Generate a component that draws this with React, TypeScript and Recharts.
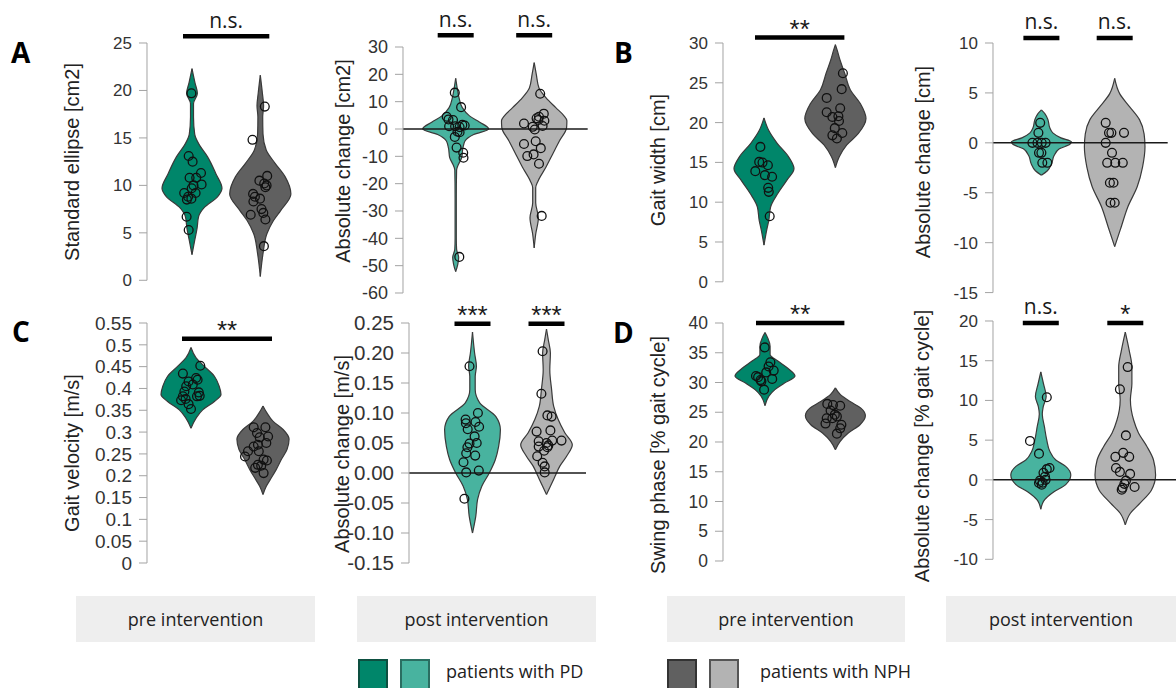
import { Area, ComposedChart, ReferenceLine, Scatter, XAxis, YAxis } from "recharts";

// groups and phases shown in the figure
const groups = ["patients with PD", "patients with NPH"];
const phases = ["pre intervention", "post intervention"];

// each dot: [value, horizontal jitter as a share of the violin half width]
// each shape row: [value, violin half width, relative]

// A: standard ellipse
const ellipsePrePd = [[19.7, -0.02], [13.1, -0.11], [12.5, 0.02], [11.3, 0.3], [10.8, -0.08], [10.8, 0.14], [10.1, 0.32], [10.0, 0.05], [9.7, -0.01], [9.2, 0.12], [9.2, -0.26], [8.8, -0.13], [8.6, -0.02], [8.5, -0.17], [6.7, -0.18], [5.3, -0.11]];
const ellipsePrePdShape = [[2.7, 0], [4.2, 0.09], [5.5, 0.17], [6.7, 0.22], [7.7, 0.42], [8.8, 0.85], [9.7, 1], [11.2, 0.8], [13, 0.52], [14.4, 0.22], [15.4, 0.09], [17.2, 0.05], [18.6, 0.05], [19.7, 0.18], [20.8, 0.1], [22.3, 0]];
const ellipsePreNph = [[18.3, 0.15], [14.8, -0.26], [11.0, 0.23], [10.5, -0.03], [10.2, 0.13], [10.0, 0.21], [9.8, 0.17], [9.1, -0.24], [8.8, -0.18], [8.6, -0.01], [8.3, -0.23], [7.5, 0.04], [7.1, 0.1], [6.9, -0.32], [6.4, 0.17], [3.6, 0.12]];
const ellipsePreNphShape = [[0.4, 0], [2.8, 0.09], [4.9, 0.22], [6.3, 0.44], [7.4, 0.69], [9.1, 1.02], [10.9, 0.83], [12.3, 0.5], [13.7, 0.2], [15.4, 0.09], [17.2, 0.08], [18.4, 0.11], [19.7, 0.07], [21.6, 0]];
const ellipseChangePd = [[13.3, -0.03], [8.0, 0.18], [4.5, -0.3], [3.5, -0.24], [3.3, -0.09], [1.5, 0.22], [1.3, 0.3], [1.0, -0.22], [1.0, -0.02], [0.7, 0.13], [-1.0, 0.06], [-1.2, 0.13], [-2.9, -0.03], [-6.8, 0.03], [-8.7, 0.25], [-10.5, 0.26], [-46.8, 0.12]];
const ellipseChangePdShape = [[-52.2, 0], [-49.5, 0.07], [-47, 0.1], [-44, 0.03], [-40, 0.02], [-25, 0.02], [-15, 0.03], [-13, 0.09], [-10.5, 0.2], [-7, 0.24], [-4.4, 0.31], [-2, 0.6], [0, 1.1], [2.5, 0.8], [4.8, 0.46], [7.8, 0.22], [11.5, 0.11], [15, 0.05], [18.5, 0]];
const ellipseChangeNph = [[12.9, 0.2], [5.6, 0.32], [4.5, 0.16], [3.9, 0.08], [3.3, 0.14], [3.0, 0.34], [2.0, -0.34], [1.1, 0.28], [0.8, -0.05], [-0.2, 0.02], [-4.5, 0.05], [-5.5, -0.34], [-7.0, 0.22], [-9.3, -0.02], [-9.9, -0.23], [-12.7, 0.16], [-31.8, 0.25]];
const ellipseChangeNphShape = [[-43.5, 0], [-38.5, 0.05], [-32.5, 0.14], [-27, 0.05], [-21.5, 0.05], [-19, 0.13], [-14, 0.39], [-9.3, 0.61], [-4.4, 0.84], [0.5, 1.08], [3, 1.09], [5, 0.98], [7.8, 0.72], [11.5, 0.39], [15, 0.16], [20, 0.07], [24.3, 0]];

// B: gait width
const widthPrePd = [[16.95, -0.12], [15.06, -0.16], [14.98, -0.05], [14.64, 0.13], [13.9, -0.29], [13.4, 0.03], [13.2, 0.27], [11.8, 0.14], [11.3, 0.16], [8.24, 0.19]];
const widthPrePdShape = [[4.6, 0], [6.5, 0.09], [7.7, 0.16], [9.4, 0.22], [11.1, 0.46], [12.8, 0.77], [14.2, 1], [15.7, 0.82], [17.4, 0.44], [19, 0.16], [20.6, 0]];
const widthPreNph = [[26.2, 0.25], [24.2, 0.21], [23.1, -0.29], [21.8, 0.16], [21.3, -0.29], [20.7, -0.1], [20.8, 0.1], [20.2, 0.12], [19.3, -0.02], [18.7, 0.23], [18.4, -0.1], [18.0, 0.05]];
const widthPreNphShape = [[14.35, 0], [15.7, 0.13], [17.2, 0.38], [18.6, 0.76], [20.5, 1.02], [22.4, 0.83], [24.1, 0.5], [26.2, 0.31], [27.8, 0.16], [29.1, 0.06], [29.8, 0]];
const widthChangePd = [[2, -0.04], [1, -0.1], [0, -0.3], [0, -0.13], [0, 0.01], [0, 0.14], [-1, -0.08], [-1, 0], [-2, 0.03], [-2, 0.2]];
const widthChangePdShape = [[-3.25, 0], [-2.8, 0.2], [-2.1, 0.34], [-1.3, 0.42], [-0.6, 0.6], [-0.15, 0.95], [0.1, 1], [0.5, 0.65], [1.0, 0.38], [1.5, 0.28], [2.3, 0.22], [2.9, 0.12], [3.3, 0]];
const widthChangeNph = [[2, -0.3], [1, -0.19], [1, -0.11], [1, 0.31], [0, -0.3], [-1, -0.09], [-2, -0.25], [-2, 0.02], [-2, 0.27], [-4, -0.16], [-4, -0.04], [-6, -0.14], [-6, 0]];
const widthChangeNphShape = [[-10.4, 0], [-8.4, 0.22], [-6.4, 0.44], [-4.4, 0.75], [-2.4, 0.93], [-0.4, 1.01], [0.9, 0.98], [2.3, 0.83], [3.6, 0.5], [4.9, 0.17], [6.45, 0]];

// C: gait velocity
const velocityPrePd = [[0.452, 0.31], [0.434, -0.27], [0.424, 0.17], [0.42, 0.22], [0.416, -0.08], [0.409, 0.06], [0.405, -0.16], [0.393, -0.22], [0.391, 0.26], [0.383, 0.29], [0.382, 0.2], [0.382, -0.27], [0.376, -0.18], [0.373, -0.33], [0.364, -0.08], [0.353, 0]];
const velocityPrePdShape = [[0.309, 0], [0.332, 0.17], [0.351, 0.39], [0.37, 0.78], [0.386, 1], [0.405, 0.94], [0.428, 0.78], [0.451, 0.44], [0.47, 0.17], [0.494, 0]];
const velocityPreNph = [[0.311, -0.31], [0.311, 0.08], [0.298, -0.2], [0.29, 0.17], [0.288, -0.11], [0.275, 0.11], [0.271, -0.17], [0.267, -0.31], [0.256, -0.14], [0.244, -0.6], [0.256, -0.5], [0.237, 0.02], [0.235, 0.13], [0.225, -0.17], [0.223, -0.06], [0.218, -0.26], [0.206, 0.02]];
const velocityPreNphShape = [[0.157, 0], [0.176, 0.11], [0.191, 0.24], [0.214, 0.44], [0.237, 0.61], [0.26, 0.8], [0.284, 0.87], [0.306, 0.67], [0.325, 0.33], [0.344, 0.13], [0.36, 0]];
const velocityChangePd = [[0.178, -0.1], [0.1, 0.18], [0.089, -0.23], [0.085, 0.1], [0.083, -0.22], [0.077, 0.22], [0.073, -0.16], [0.061, 0.07], [0.05, 0.14], [0.049, -0.1], [0.043, -0.17], [0.033, -0.21], [0.029, 0.09], [0.018, -0.3], [0.004, 0.21], [0.001, -0.21], [-0.043, -0.27]];
const velocityChangePdShape = [[-0.1, 0], [-0.072, 0.11], [-0.044, 0.17], [-0.022, 0.31], [0, 0.56], [0.022, 0.76], [0.044, 0.87], [0.072, 0.93], [0.094, 0.78], [0.117, 0.24], [0.139, 0.09], [0.161, 0.09], [0.178, 0.13], [0.2, 0.07], [0.235, 0]];
const velocityChangeNph = [[0.203, -0.13], [0.132, -0.17], [0.094, 0.17], [0.096, 0.03], [0.071, 0.13], [0.069, -0.33], [0.054, 0.5], [0.054, 0.19], [0.053, -0.26], [0.05, 0], [0.046, 0.06], [0.044, -0.26], [0.043, 0.03], [0.037, -0.08], [0.028, -0.31], [0.017, -0.13], [0.011, -0.06], [0.001, -0.06]];
const velocityChangeNphShape = [[-0.036, 0], [-0.022, 0.13], [-0.006, 0.28], [0.011, 0.44], [0.028, 0.67], [0.047, 0.86], [0.067, 0.61], [0.089, 0.39], [0.111, 0.24], [0.139, 0.17], [0.172, 0.11], [0.2, 0.13], [0.222, 0.06], [0.24, 0]];

// D: swing phase
const swingPrePd = [[35.9, -0.01], [33.4, 0.18], [32.7, 0.12], [32.0, 0.29], [31.7, 0.04], [31.1, -0.3], [30.9, -0.23], [30.6, 0.24], [30.4, -0.15], [30.2, -0.12], [28.8, -0.03]];
const swingPrePdShape = [[26.1, 0], [27.7, 0.13], [28.8, 0.33], [29.9, 0.65], [31.1, 1], [32.4, 0.76], [33.6, 0.43], [34.7, 0.17], [36.1, 0.17], [37.5, 0.09], [38.4, 0]];
const swingPreNph = [[26.4, -0.27], [26.2, -0.08], [26.1, 0.16], [25.3, -0.16], [24.6, -0.02], [24.3, 0.05], [24.0, -0.29], [24.0, -0.1], [23.1, -0.33], [22.9, 0.2], [22.3, 0.16], [21.4, 0.05]];
const swingPreNphShape = [[18.7, 0], [20.1, 0.16], [21.5, 0.43], [22.9, 0.82], [24.4, 1], [25.7, 0.85], [26.8, 0.49], [28, 0.16], [29.1, 0]];
const swingChangePd = [[10.4, 0.2], [4.9, -0.36], [3.3, -0.06], [1.5, 0.29], [1.35, 0.2], [0.9, 0.09], [0.4, 0.14], [0, 0.16], [-0.1, -0.03], [-0.35, 0.06], [-0.4, -0.06], [-0.6, 0.03]];
const swingChangePdShape = [[-3.7, 0], [-2.5, 0.13], [-1.5, 0.44], [-0.6, 0.83], [0.6, 1], [1.7, 0.83], [2.5, 0.5], [3.6, 0.3], [5, 0.2], [6.7, 0.12], [8.3, 0.05], [9.2, 0.08], [10.5, 0.18], [12.1, 0.09], [13.6, 0]];
const swingChangeNph = [[14.2, 0.08], [11.4, -0.18], [5.6, 0.02], [3.4, -0.07], [2.9, -0.33], [2.9, 0.13], [1.5, -0.31], [1.0, -0.18], [0.75, 0.16], [-0.1, 0.02], [-0.5, -0.03], [-0.9, 0.31], [-1.0, -0.09], [-1.25, -0.12]];
const swingChangeNphShape = [[-5.65, 0], [-4.2, 0.17], [-2.9, 0.5], [-1.3, 0.87], [0.6, 1.01], [2.5, 0.94], [4.2, 0.72], [5.9, 0.44], [7.5, 0.28], [10.1, 0.17], [12.1, 0.22], [14.2, 0.22], [16.3, 0.13], [18.6, 0]];

const SANS = '"Liberation Sans", Arial, sans-serif';
const OPEN = '"Open Sans", sans-serif';
const HALF = 30; // px, widest violin half width
const AXIS_W = 90;

const colors = {
  pre: ["#00866a", "#606060"],
  post: ["#48b39f", "#b3b3b3"],
};

const panels = [
  { letter: "A", lx: 11, ly: 38, yLabel: "Standard ellipse [cm2]", ticks: [0, 5, 10, 15, 20, 25], pre: true, pd: ellipsePrePd, pdShape: ellipsePrePdShape, nph: ellipsePreNph, nphShape: ellipsePreNphShape, sig: ["n.s."], axisX: 146.7, top: 42.7, bottom: 280, right: 300, c1: 191.7, c2: 260, barY: 36, labelX: 72, labelY: 162, tickFont: 17 },
  { yLabel: "Absolute change [cm2]", ticks: [-60, -50, -40, -30, -20, -10, 0, 10, 20, 30], pre: false, pd: ellipseChangePd, pdShape: ellipseChangePdShape, nph: ellipseChangeNph, nphShape: ellipseChangeNphShape, sig: ["n.s.", "n.s."], axisX: 403.3, top: 46.7, bottom: 292.7, right: 588, c1: 456, c2: 534.5, barY: 35, labelX: 343, labelY: 161, tickFont: 18 },
  { letter: "B", lx: 614, ly: 38, yLabel: "Gait width [cm]", ticks: [0, 5, 10, 15, 20, 25, 30], pre: true, pd: widthPrePd, pdShape: widthPrePdShape, nph: widthPreNph, nphShape: widthPreNphShape, sig: ["**"], axisX: 723.3, top: 42.7, bottom: 281.5, right: 890, c1: 764.3, c2: 835.7, barY: 37.3, labelX: 658, labelY: 160, tickFont: 17 },
  { yLabel: "Absolute change [cm]", ticks: [-15, -10, -5, 0, 5, 10], pre: false, pd: widthChangePd, pdShape: widthChangePdShape, nph: widthChangeNph, nphShape: widthChangeNphShape, sig: ["n.s.", "n.s."], axisX: 993.3, top: 42.7, bottom: 292.3, right: 1168, c1: 1041.7, c2: 1115, barY: 37.7, labelX: 923, labelY: 162, tickFont: 17 },
  { letter: "C", lx: 12, ly: 317, yLabel: "Gait velocity [m/s]", ticks: [0, 0.05, 0.1, 0.15, 0.2, 0.25, 0.3, 0.35, 0.4, 0.45, 0.5, 0.55], pre: true, pd: velocityPrePd, pdShape: velocityPrePdShape, nph: velocityPreNph, nphShape: velocityPreNphShape, sig: ["**"], axisX: 146.7, top: 323.3, bottom: 563.3, right: 300, c1: 190.7, c2: 262.7, barY: 339, labelX: 72, labelY: 453, tickFont: 19 },
  { yLabel: "Absolute change [m/s]", ticks: [-0.15, -0.1, -0.05, 0, 0.05, 0.1, 0.15, 0.2, 0.25], fixed: 2, pre: false, pd: velocityChangePd, pdShape: velocityChangePdShape, nph: velocityChangeNph, nphShape: velocityChangeNphShape, sig: ["***", "***"], axisX: 409, top: 323.3, bottom: 563.3, right: 586, c1: 472.5, c2: 546.5, barY: 324, labelX: 342, labelY: 454, tickFont: 20.5 },
  { letter: "D", lx: 613, ly: 318, yLabel: "Swing phase [% gait cycle]", ticks: [0, 5, 10, 15, 20, 25, 30, 35, 40], pre: true, pd: swingPrePd, pdShape: swingPrePdShape, nph: swingPreNph, nphShape: swingPreNphShape, sig: ["**"], axisX: 723.3, top: 323.3, bottom: 561.3, right: 890, c1: 765.3, c2: 835.7, barY: 323.3, labelX: 658, labelY: 455, tickFont: 17.5 },
  { yLabel: "Absolute change [% gait cycle]", ticks: [-10, -5, 0, 5, 10, 15, 20], pre: false, pd: swingChangePd, pdShape: swingChangePdShape, nph: swingChangeNph, nphShape: swingChangeNphShape, sig: ["n.s.", "*"], axisX: 992.7, top: 321, bottom: 559.3, right: 1176, c1: 1040.5, c2: 1125, barY: 323, labelX: 922, labelY: 446, tickFont: 17 },
];

type PanelDef = (typeof panels)[number] & { fixed?: number };

const ring = (props: any) => (
  <circle cx={props.cx} cy={props.cy} r={4.4} fill="none" stroke="#111" strokeWidth={1.3} />
);

function ViolinPanel({ p }: { p: PanelDef }) {
  const s = p.c2 - p.c1;
  const hw = HALF / s;
  const chartLeft = p.axisX - AXIS_W;
  const chartTop = p.top - 42;
  const width = p.right - chartLeft;
  const height = p.bottom - chartTop + 14;
  const xMin = 1 - (p.c1 - p.axisX) / s;
  const xMax = 2 + (p.right - p.c2) / s;
  const yMin = p.ticks[0];
  const yMax = p.ticks[p.ticks.length - 1];
  const pxPerUnit = (p.bottom - p.top) / (yMax - yMin);
  const barVal = yMax + (p.top - p.barY) / pxPerUnit;
  const fill = p.pre ? colors.pre : colors.post;

  // each violin keeps its own rows, top first
  const pdRows = [...p.pdShape].reverse().map(([y, w]) => ({ y, v: [1 - w * hw, 1 + w * hw] }));
  const nphRows = [...p.nphShape].reverse().map(([y, w]) => ({ y, v: [2 - w * hw, 2 + w * hw] }));
  const pdDots = p.pd.map(([y, j]) => ({ y, x: 1 + j * hw }));
  const nphDots = p.nph.map(([y, j]) => ({ y, x: 2 + j * hw }));

  const bars = p.pre
    ? [{ x1: 1 - 9 / s, x2: 2 + 9 / s, text: p.sig[0] }]
    : [
        { x1: 1 - 18 / s, x2: 1 + 18 / s, text: p.sig[0] },
        { x1: 2 - 18 / s, x2: 2 + 18 / s, text: p.sig[1] },
      ];

  const fmt = (v: number) => (p.fixed ? v.toFixed(p.fixed) : String(v));

  return (
    <div style={{ position: "absolute", left: chartLeft, top: chartTop }}>
      <ComposedChart
        layout="vertical"
        width={width}
        height={height}
        margin={{ top: p.top - chartTop, right: 0, bottom: 14, left: 0 }}
      >
        <XAxis type="number" domain={[xMin, xMax]} hide allowDataOverflow />
        <YAxis
          type="number"
          dataKey="y"
          reversed
          domain={[yMin, yMax]}
          ticks={p.ticks}
          interval={0}
          allowDataOverflow
          width={AXIS_W}
          tickSize={8}
          tickMargin={7}
          tickFormatter={fmt}
          axisLine={{ stroke: "#a3a3a3" }}
          tickLine={{ stroke: "#a3a3a3" }}
          tick={{ fill: "#333", fontSize: p.tickFont, fontFamily: SANS }}
        />
        <Area
          data={pdRows}
          dataKey="v"
          type="monotone"
          fill={fill[0]}
          fillOpacity={1}
          stroke="#3a3a3a"
          strokeWidth={1.2}
          dot={false}
          activeDot={false}
          isAnimationActive={false}
        />
        <Area
          data={nphRows}
          dataKey="v"
          type="monotone"
          fill={fill[1]}
          fillOpacity={1}
          stroke="#3a3a3a"
          strokeWidth={1.2}
          dot={false}
          activeDot={false}
          isAnimationActive={false}
        />
        {!p.pre && <ReferenceLine y={0} stroke="#1a1a1a" strokeWidth={1.5} />}
        <Scatter data={pdDots} dataKey="x" shape={ring} isAnimationActive={false} />
        <Scatter data={nphDots} dataKey="x" shape={ring} isAnimationActive={false} />
        {bars.map((b, i) => (
          <ReferenceLine
            key={i}
            segment={[
              { x: b.x1, y: barVal },
              { x: b.x2, y: barVal },
            ]}
            ifOverflow="visible"
            stroke="#000"
            strokeWidth={4.5}
            label={{
              value: b.text,
              position: "top",
              offset: b.text.startsWith("n") ? 8.5 : 0,
              fill: "#1a1a1a",
              fontSize: b.text.startsWith("n") ? 21 : 26,
              fontFamily: b.text.startsWith("n") ? OPEN : SANS,
            }}
          />
        ))}
      </ComposedChart>
    </div>
  );
}

const phaseBoxes = [
  { left: 76, width: 239, text: phases[0] },
  { left: 357, width: 239, text: phases[1] },
  { left: 667, width: 238, text: phases[0] },
  { left: 946, width: 230, text: phases[1] },
];

const legendItems = [
  { left: 358, swatches: [colors.pre[0], colors.post[0]], borders: ["#0d4f40", "#2a6e61"], text: groups[0], textLeft: 446 },
  { left: 667, swatches: [colors.pre[1], colors.post[1]], borders: ["#333", "#555"], text: groups[1], textLeft: 760 },
];

export default function App() {
  return (
    <div style={{ position: "absolute", left: 0, top: 0, width: 1176, height: 688, background: "#fff", overflow: "hidden" }}>
      {panels.map((p, i) => (
        <ViolinPanel key={i} p={p as PanelDef} />
      ))}
      {panels.map((p, i) => (
        <div
          key={"l" + i}
          style={{
            position: "absolute",
            left: p.labelX,
            top: p.labelY,
            transform: "translate(-50%, -50%) rotate(-90deg)",
            whiteSpace: "nowrap",
            fontFamily: SANS,
            fontSize: 20,
            lineHeight: 1,
            color: "#222",
          }}
        >
          {p.yLabel}
        </div>
      ))}
      {panels
        .filter((p) => p.letter)
        .map((p) => (
          <div
            key={p.letter}
            style={{ position: "absolute", left: p.lx, top: p.ly, fontFamily: OPEN, fontWeight: 700, fontSize: 28, lineHeight: 1, color: "#000" }}
          >
            {p.letter}
          </div>
        ))}
      {phaseBoxes.map((b, i) => (
        <div
          key={"b" + i}
          style={{
            position: "absolute",
            left: b.left,
            top: 596,
            width: b.width,
            height: 46,
            background: "#eeeeee",
            display: "flex",
            alignItems: "center",
            justifyContent: "center",
            fontFamily: OPEN,
            fontSize: 18,
            color: "#222",
          }}
        >
          {b.text}
        </div>
      ))}
      {legendItems.map((g, i) => (
        <div key={"g" + i}>
          {g.swatches.map((c, k) => (
            <div
              key={k}
              style={{
                position: "absolute",
                left: g.left + k * 42,
                top: 659,
                width: 26,
                height: 28,
                background: c,
                border: `2px solid ${g.borders[k]}`,
              }}
            />
          ))}
          <div style={{ position: "absolute", left: g.textLeft, top: 658, fontFamily: OPEN, fontSize: 18, lineHeight: "26px", color: "#222" }}>
            {g.text}
          </div>
        </div>
      ))}
    </div>
  );
}
